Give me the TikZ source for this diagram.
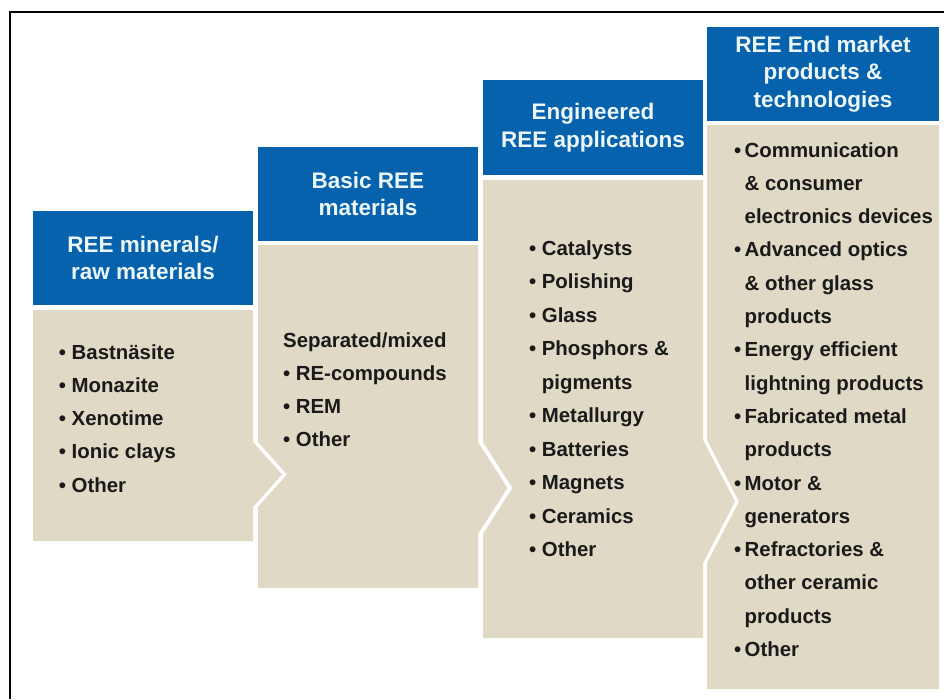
\documentclass[tikz,border=0pt]{standalone}
\usepackage{fontspec}
\setmainfont{Liberation Sans}
\definecolor{reeblue}{RGB}{6,98,172}
\definecolor{reesand}{RGB}{224,217,198}
\definecolor{reehead}{RGB}{236,246,249}
\definecolor{reetext}{RGB}{26,26,26}
\newcommand{\bul}{\llap{•\ }}
\newcommand{\tightbul}{\llap{•\hspace{3.5pt}}}
\tikzset{
	head/.style={fill=reeblue, text=reehead, inner sep=0pt, align=center,
		font=\fontsize{22.5}{27.5}\selectfont\bfseries},
	item/.style={anchor=base west, text=reetext, inner sep=0pt,
		font=\fontsize{20.4}{24}\selectfont\bfseries},
}

\begin{document}
\begin{tikzpicture}[x=1pt, y=-1pt]
	\useasboundingbox (0,0) rectangle (944,699);
	\fill[white] (0,0) rectangle (944,699);
	% frame
	\draw[line width=1.8pt] (9.9,699) -- (9.9,11.7) -- (944,11.7);
	% bodies with chevrons
	\fill[reesand] (33,310) -- (253,310) -- (253,442) -- (282,474.5) -- (253,507) -- (253,541) -- (33,541) -- cycle;
	\fill[reesand] (258,245) -- (478,245) -- (478,442) -- (507.5,488) -- (478,534) -- (478,588)
		-- (258,588) -- (258,507) -- (287,474.5) -- (258,442) -- cycle;
	\fill[reesand] (483,180) -- (703,180) -- (703,440) -- (735,501.5) -- (703,563) -- (703,638)
		-- (483,638) -- (483,534) -- (512.5,488) -- (483,442) -- cycle;
	\fill[reesand] (707,125) -- (939,125) -- (939,689) -- (707,689) -- (707,563) -- (739,501.5) -- (707,440) -- cycle;
	% headers
	\node[head, minimum width=220pt, minimum height=94pt] (h1) at (143,258) {REE minerals/\\raw materials};
	\node[head, minimum width=220pt, minimum height=94pt] (h2) at (368,194) {Basic REE\\materials};
	\node[head, minimum width=220pt, minimum height=95pt] (h3) at (593,127.5) {Engineered\\REE applications};
	\node[head, minimum width=232pt, minimum height=94pt] (h4) at (823,74) {REE End market\\products \&\\technologies};
	% column 1
	\foreach \t [count=\i from 0] in {Bastnäsite, Monazite, Xenotime, Ionic clays, Other} {
		\node[item] (a\i) at (71.5, 359+33.3*\i) {\bul\t};
	}
	% column 2
	\node[item] (b0) at (283, 347) {Separated/mixed};
	\foreach \t [count=\i] in {RE-compounds, REM, Other} {
		\node[item] (b\i) at (295.7, 347+33.3*\i) {\bul\t};
	}
	% column 3
	\foreach \t [count=\i from 0] in {\bul Catalysts, \bul Polishing, \bul Glass, \bul Phosphors \&, pigments,
		\bul Metallurgy, \bul Batteries, \bul Magnets, \bul Ceramics, \bul Other} {
		\node[item] (c\i) at (541.7, 255.5+33.45*\i) {\t};
	}
	% column 4
	\foreach \t [count=\i from 0] in {\tightbul Communication, \& consumer, electronics devices,
		\tightbul Advanced optics, \& other glass, products, \tightbul Energy efficient, lightning products,
		\tightbul Fabricated metal, products, \tightbul Motor \&, generators, \tightbul Refractories \&,
		other ceramic, products, \tightbul Other} {
		\node[item] (d\i) at (744.5, 157+33.3*\i) {\t};
	}
\end{tikzpicture}
\end{document}
